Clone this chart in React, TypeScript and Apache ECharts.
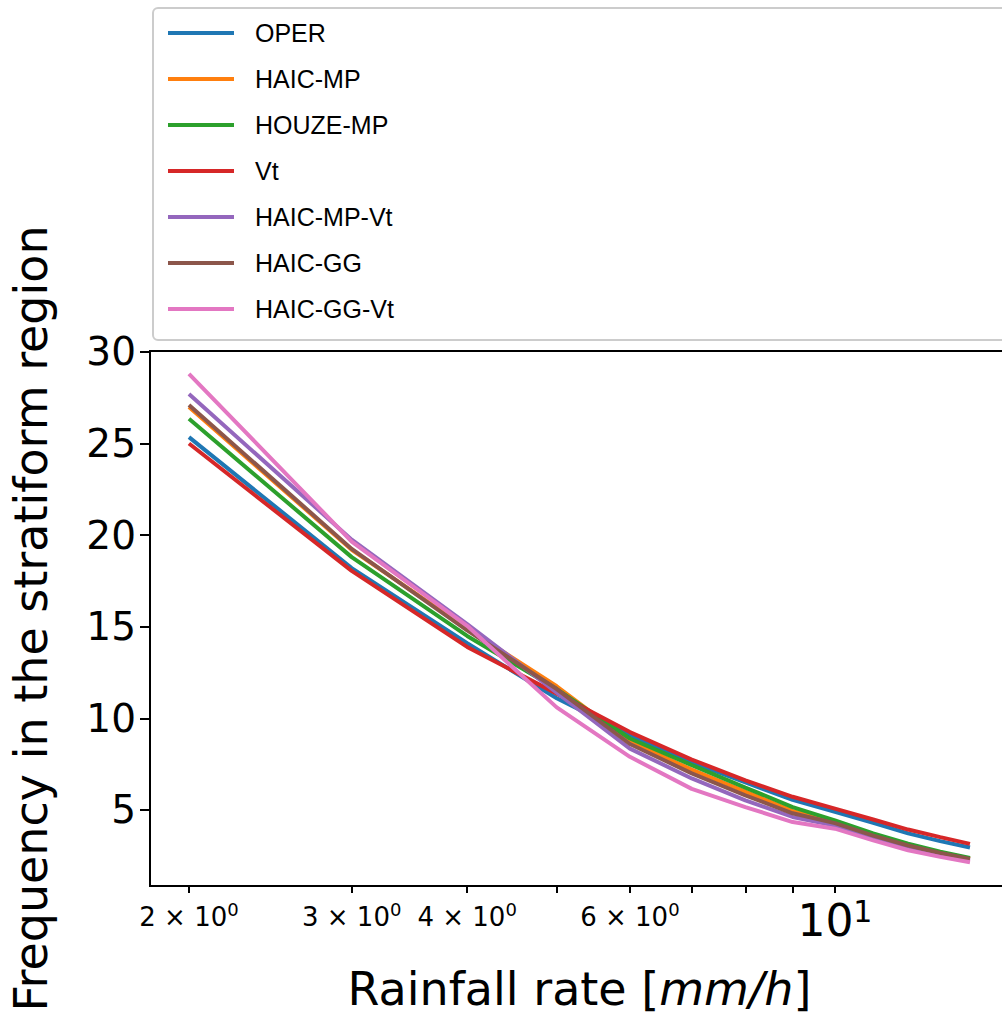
import React, { useEffect, useRef } from "react";
import * as echarts from "echarts";

const rainRate = [2, 3, 4, 5, 6, 7, 8, 9, 10, 11, 12, 13, 14];
const seriesNames = ["OPER", "HAIC-MP", "HOUZE-MP", "Vt", "HAIC-MP-Vt", "HAIC-GG", "HAIC-GG-Vt"];
const oper = [25.35, 18.2, 14.1, 11.1, 9.1, 7.6, 6.5, 5.55, 4.9, 4.3, 3.72, 3.3, 2.95];
const haicMp = [27.0, 19.2, 14.9, 11.75, 8.75, 7.2, 6.0, 4.95, 4.35, 3.65, 3.1, 2.68, 2.34];
const houzeMp = [26.35, 18.8, 14.5, 11.6, 8.9, 7.45, 6.22, 5.16, 4.43, 3.72, 3.16, 2.72, 2.38];
const vt = [25.0, 18.05, 13.9, 11.35, 9.25, 7.75, 6.62, 5.72, 5.07, 4.48, 3.93, 3.52, 3.15];
const haicMpVt = [27.7, 19.75, 15.15, 11.4, 8.35, 6.72, 5.52, 4.62, 4.15, 3.48, 3.0, 2.56, 2.24];
const haicGg = [27.1, 19.25, 14.8, 11.6, 8.6, 7.0, 5.8, 4.82, 4.28, 3.6, 3.06, 2.65, 2.32];
const haicGgVt = [28.8, 19.65, 15.05, 10.6, 7.9, 6.15, 5.16, 4.34, 3.98, 3.34, 2.8, 2.44, 2.15];
const seriesValues = [oper, haicMp, houzeMp, vt, haicMpVt, haicGg, haicGgVt];
const colors = ["#1f77b4", "#ff7f0e", "#2ca02c", "#d62728", "#9467bd", "#8c564b", "#e377c2"];

const xTicks = [2, 3, 4, 5, 6, 7, 8, 9, 10];
const xLabels = [2, 3, 4, 6, 10];
const yTicks = [5, 10, 15, 20, 25, 30];

export default function App() {
  const ref = useRef<HTMLDivElement>(null);
  useEffect(() => {
    if (!ref.current) return;
    const chart = echarts.init(ref.current, undefined, { renderer: "svg" });
    const axisFont = "DejaVu Sans";
    chart.setOption({
      animation: false,
      backgroundColor: "#fff",
      graphic: [
        {
          type: "rect",
          z: 0,
          shape: { x: 153, y: 8, width: 900, height: 332, r: 5 },
          style: { fill: "#fff", stroke: "#cccccc", lineWidth: 2 },
        },
      ],
      legend: {
        orient: "vertical",
        left: 163,
        top: 15,
        icon: "rect",
        itemWidth: 66,
        itemHeight: 4,
        itemGap: 20,
        z: 5,
        data: seriesNames,
        textStyle: {
          fontFamily: "Liberation Sans",
          fontSize: 25,
          lineHeight: 26,
          color: "#000",
          padding: [0, 0, 0, 16],
        },
      },
      grid: {
        left: 150,
        top: 351,
        width: 859,
        height: 535,
        show: true,
        borderColor: "#000",
        borderWidth: 2,
        backgroundColor: "transparent",
        containLabel: false,
        outerBoundsMode: "none",
      },
      xAxis: {
        type: "log",
        logBase: 10,
        min: 1.815,
        max: 15.43,
        axisLine: { show: true, lineStyle: { color: "#000", width: 2 } },
        axisTick: {
          show: true,
          customValues: xTicks,
          length: 7,
          lineStyle: { color: "#000", width: 2 },
        },
        splitLine: { show: false },
        minorTick: { show: false },
        axisLabel: {
          customValues: xLabels,
          margin: 10,
          color: "#000",
          fontFamily: axisFont,
          formatter: (v: number) =>
            v >= 10 ? `{b|10}{bs|1}` : `{a|${Math.round(v)} × 10}{as|0}`,
          rich: {
            a: { fontSize: 26, fontFamily: axisFont, color: "#000", padding: [8, 0, 0, 0] },
            as: { fontSize: 18, fontFamily: axisFont, color: "#000", padding: [0, 0, 8, 0] },
            b: { fontSize: 44, fontFamily: axisFont, color: "#000" },
            bs: { fontSize: 30, fontFamily: axisFont, color: "#000", padding: [0, 0, 18, 0] },
          },
        },
        name: "Rainfall rate [{i|mm/h}]",
        nameLocation: "middle",
        nameGap: 80,
        nameTextStyle: {
          fontFamily: axisFont,
          fontSize: 46,
          color: "#000",
          rich: {
            i: { fontFamily: axisFont, fontSize: 46, fontStyle: "italic", color: "#000" },
          },
        },
      },
      yAxis: {
        type: "value",
        min: 0.85,
        max: 30.05,
        axisLine: { show: true, lineStyle: { color: "#000", width: 2 } },
        axisTick: {
          show: true,
          customValues: yTicks,
          length: 10,
          lineStyle: { color: "#000", width: 2 },
        },
        splitLine: { show: false },
        axisLabel: {
          customValues: yTicks,
          margin: 14,
          color: "#000",
          fontFamily: axisFont,
          fontSize: 39,
        },
        name: "Frequency in the stratiform region",
        nameLocation: "middle",
        nameRotate: 90,
        nameGap: 96,
        nameTextStyle: {
          fontFamily: axisFont,
          fontSize: 46,
          color: "#000",
        },
      },
      series: seriesNames.map((name, i) => ({
        name,
        type: "line",
        showSymbol: false,
        symbol: "none",
        color: colors[i],
        lineStyle: { color: colors[i], width: 4 },
        data: rainRate.map((x, j) => [x, seriesValues[i][j]]),
      })),
    });
    return () => chart.dispose();
  }, []);
  return (
    <div
      style={{
        position: "fixed",
        left: 0,
        top: 0,
        width: 1002,
        height: 1015,
        overflow: "hidden",
        background: "#fff",
      }}
    >
      <div ref={ref} style={{ width: 1012, height: 1015 }} />
    </div>
  );
}
